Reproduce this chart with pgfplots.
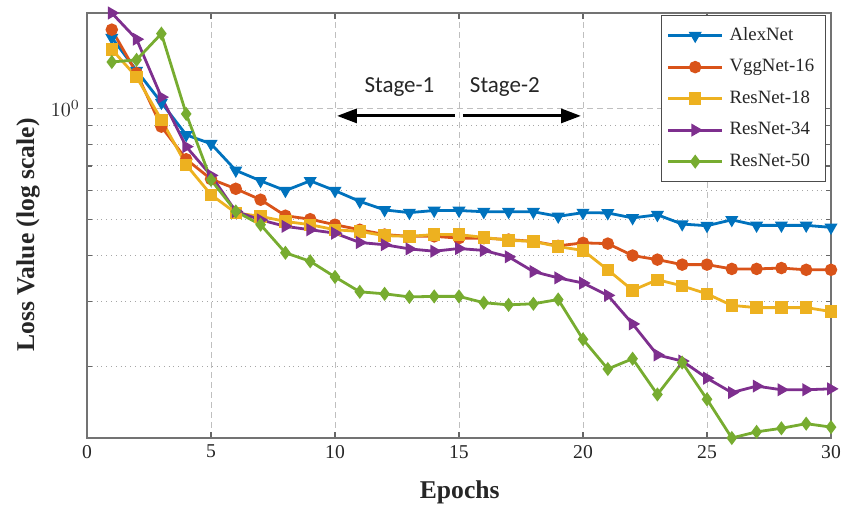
\documentclass[border=0pt]{standalone}
\usepackage{pgfplots}
\pgfplotsset{compat=1.18}
\usepackage{fontspec}
\setmainfont{Liberation Serif}
\newfontfamily\calibri{Carlito}
\usetikzlibrary{arrows.meta}
\definecolor{mblue}{rgb}{0,0.447,0.741}
\definecolor{morange}{rgb}{0.85,0.325,0.098}
\definecolor{myellow}{rgb}{0.929,0.694,0.125}
\definecolor{mpurple}{rgb}{0.494,0.184,0.556}
\definecolor{mgreen}{rgb}{0.466,0.674,0.188}
\begin{document}
\begin{tikzpicture}
\path[use as bounding box] (-43.5pt,-37pt) rectangle (377pt,219pt);
\begin{axis}[
  scale only axis,
  width=372pt, height=212.5pt,
  xmin=0, xmax=30,
  ymode=log, ymin=0.128, ymax=1.82,
  xtick={0,5,...,30},
  ytick={1}, yticklabels={$10^0$},
  minor ytick={0.2,0.3,0.4,0.5,0.6,0.7,0.8,0.9},
  grid=both,
  major grid style={densely dashed, black!25, line width=0.4pt},
  minor grid style={dotted, black!35, line width=0.5pt},
  axis line style={black!55, line width=0.8pt},
  tick style={black!60, line width=0.6pt},
  major tick length=3pt, minor tick length=2.5pt,
  tick align=inside,
  /pgf/number format/assume math mode=true,
  tick label style={font=\fontsize{9.8}{11}\selectfont, black!85},
  xlabel={\textbf{Epochs}},
  ylabel={\textbf{Loss Value (log scale)}},
  label style={font=\fontsize{12.8}{14}\selectfont, black!85},
  xlabel style={at={(axis description cs:0.501,-0.129)}, anchor=center},
  ylabel style={at={(axis description cs:-0.0793,0.478)}, anchor=center},
  legend style={at={(rel axis cs:0.993,0.995)}, anchor=north east,
    font=\fontsize{9.4}{11}\selectfont, draw=black!70, line width=0.6pt,
    row sep=4.25pt, inner xsep=2.5pt, inner ysep=4.2pt,
    nodes={inner ysep=1.5pt, inner xsep=3pt, text height=6.5pt, text depth=2pt, text=black!85}},
  legend cell align=left,
  legend image code/.code={\draw[mark repeat=2,mark phase=2] plot coordinates {(0pt,0pt) (13.5pt,0pt) (27pt,0pt)};},
  every axis plot/.append style={line width=1.4pt, mark size=2.4pt, mark options={solid}},
]
\addplot[color=mblue, mark=triangle*, mark options={rotate=180}] coordinates {
(1,1.56)(2,1.27)(3,1.04)(4,0.85)(5,0.804)(6,0.681)(7,0.638)(8,0.600)(9,0.638)(10,0.600)
(11,0.561)(12,0.532)(13,0.523)(14,0.530)(15,0.530)(16,0.526)(17,0.526)(18,0.526)(19,0.511)(20,0.523)
(21,0.522)(22,0.506)(23,0.516)(24,0.487)(25,0.482)(26,0.500)(27,0.483)(28,0.483)(29,0.483)(30,0.477)};
\addlegendentry{AlexNet}
\addplot[color=morange, mark=*] coordinates {
(1,1.64)(2,1.25)(3,0.895)(4,0.73)(5,0.645)(6,0.607)(7,0.567)(8,0.513)(9,0.502)(10,0.485)
(11,0.470)(12,0.456)(13,0.451)(14,0.451)(15,0.446)(16,0.446)(17,0.442)(18,0.437)(19,0.425)(20,0.433)
(21,0.431)(22,0.400)(23,0.390)(24,0.378)(25,0.378)(26,0.368)(27,0.368)(28,0.370)(29,0.366)(30,0.366)};
\addlegendentry{VggNet-16}
\addplot[color=myellow, mark=square*] coordinates {
(1,1.45)(2,1.22)(3,0.934)(4,0.705)(5,0.585)(6,0.522)(7,0.511)(8,0.495)(9,0.485)(10,0.470)
(11,0.465)(12,0.453)(13,0.451)(14,0.456)(15,0.456)(16,0.448)(17,0.440)(18,0.437)(19,0.423)(20,0.413)
(21,0.366)(22,0.322)(23,0.344)(24,0.331)(25,0.315)(26,0.293)(27,0.289)(28,0.289)(29,0.289)(30,0.282)};
\addlegendentry{ResNet-18}
\addplot[color=mpurple, mark=triangle*, mark options={rotate=-90}] coordinates {
(1,1.82)(2,1.545)(3,1.076)(4,0.79)(5,0.66)(6,0.527)(7,0.500)(8,0.480)(9,0.470)(10,0.460)
(11,0.434)(12,0.428)(13,0.417)(14,0.411)(15,0.418)(16,0.413)(17,0.397)(18,0.362)(19,0.348)(20,0.337)
(21,0.312)(22,0.261)(23,0.215)(24,0.207)(25,0.186)(26,0.170)(27,0.177)(28,0.173)(29,0.173)(30,0.174)};
\addlegendentry{ResNet-34}
\addplot[color=mgreen, mark=diamond*] coordinates {
(1,1.34)(2,1.358)(3,1.60)(4,0.969)(5,0.642)(6,0.527)(7,0.485)(8,0.407)(9,0.386)(10,0.350)
(11,0.319)(12,0.315)(13,0.309)(14,0.310)(15,0.310)(16,0.298)(17,0.294)(18,0.296)(19,0.304)(20,0.237)
(21,0.197)(22,0.210)(23,0.168)(24,0.205)(25,0.163)(26,0.128)(27,0.133)(28,0.136)(29,0.140)(30,0.137)};
\addlegendentry{ResNet-50}
\draw[line width=1.6pt, -{Triangle[length=10pt,width=7pt]}] (axis cs:14.84,0.957) -- (axis cs:10.08,0.957);
\draw[line width=1.6pt, -{Triangle[length=10pt,width=7pt]}] (axis cs:15.16,0.957) -- (axis cs:19.92,0.957);
\node[font=\calibri\fontsize{11.5}{13}\selectfont, text=black!85] at (axis cs:12.6,1.147) {Stage-1};
\node[font=\calibri\fontsize{11.5}{13}\selectfont, text=black!85] at (axis cs:16.85,1.147) {Stage-2};
\end{axis}
\end{tikzpicture}
\end{document}
